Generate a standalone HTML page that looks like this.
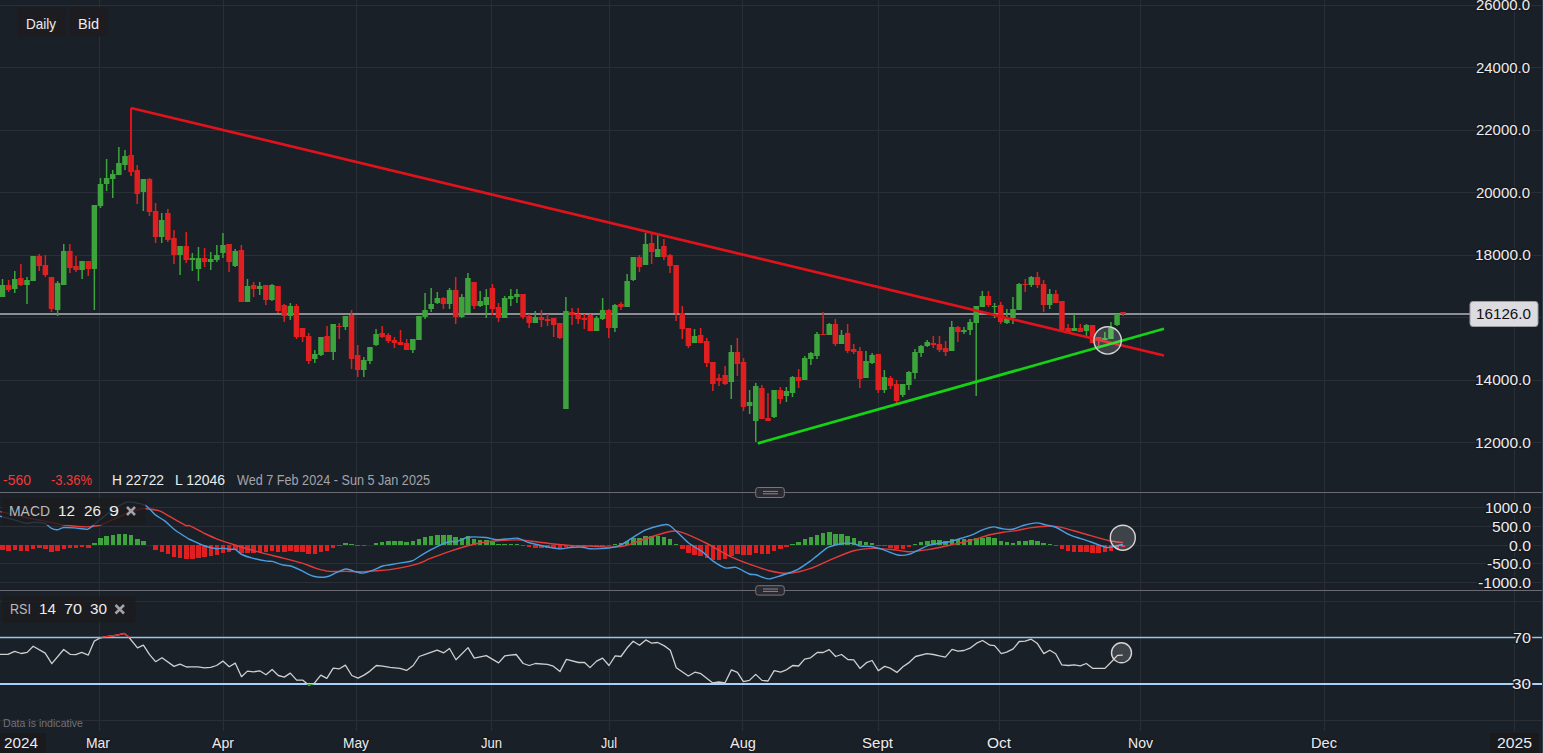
<!DOCTYPE html>
<html><head><meta charset="utf-8"><title>Chart</title>
<style>html,body{margin:0;padding:0;background:#1a2027;}body{width:1543px;height:753px;overflow:hidden;position:relative;font-family:"Liberation Sans",sans-serif;}</style>
</head><body>
<svg width="1543" height="753" viewBox="0 0 1543 753" style="position:absolute;left:0;top:0"><path d="M0 5.5H1542M0 67.5H1542M0 130.5H1542M0 192.5H1542M0 255.5H1542M0 317.5H1542M0 380.5H1542M0 442.5H1542M0 507.5H1542M0 526.5H1542M0 545.5H1542M0 563.5H1542M0 582.5H1542M0 601.5H1542M0 720.5H1542M99.5 0V731M223.5 0V731M356.5 0V731M491.5 0V731M609.5 0V731M742.5 0V731M878.5 0V731M999.5 0V731M1140.5 0V731M1324.5 0V731M1514.5 0V731" stroke="#2a2e36" stroke-width="1" fill="none"/><path d="M0 314H1470" stroke="#8c8e94" stroke-width="2" fill="none"/><path d="M7.87 280h1.5V292h-1.5ZM20.12 264h1.5V286h-1.5ZM38.49 254h1.5V271h-1.5ZM44.62 255h1.5V277h-1.5ZM50.74 277h1.5V312h-1.5ZM69.11 244h1.5V273h-1.5ZM75.24 256h1.5V272h-1.5ZM87.49 261h1.5V276h-1.5ZM130.35 108h1.5V176h-1.5ZM136.48 165h1.5V204h-1.5ZM148.73 178h1.5V216h-1.5ZM154.85 203h1.5V243h-1.5ZM167.10 209h1.5V242h-1.5ZM173.22 230h1.5V264h-1.5ZM185.47 232h1.5V263h-1.5ZM203.84 248h1.5V267h-1.5ZM228.34 244h1.5V272h-1.5ZM240.59 245h1.5V302h-1.5ZM252.83 282h1.5V297h-1.5ZM265.08 285h1.5V305h-1.5ZM277.33 286h1.5V313h-1.5ZM283.45 304h1.5V322h-1.5ZM295.70 304h1.5V339h-1.5ZM301.83 328h1.5V342h-1.5ZM307.95 333h1.5V364h-1.5ZM326.32 326h1.5V352h-1.5ZM338.57 323h1.5V339h-1.5ZM350.82 310h1.5V369h-1.5ZM356.94 345h1.5V377h-1.5ZM381.44 326h1.5V338h-1.5ZM387.56 333h1.5V343h-1.5ZM393.69 337h1.5V348h-1.5ZM399.81 330h1.5V345h-1.5ZM405.93 339h1.5V350h-1.5ZM442.68 297h1.5V309h-1.5ZM454.93 277h1.5V324h-1.5ZM473.30 282h1.5V309h-1.5ZM491.67 284h1.5V315h-1.5ZM497.79 303h1.5V322h-1.5ZM522.29 294h1.5V319h-1.5ZM528.41 314h1.5V328h-1.5ZM540.66 310h1.5V327h-1.5ZM546.79 314h1.5V326h-1.5ZM552.91 318h1.5V337h-1.5ZM559.03 323h1.5V339h-1.5ZM571.28 308h1.5V325h-1.5ZM577.41 308h1.5V324h-1.5ZM583.53 314h1.5V329h-1.5ZM589.65 314h1.5V331h-1.5ZM608.03 309h1.5V338h-1.5ZM620.27 302h1.5V310h-1.5ZM638.65 255h1.5V272h-1.5ZM650.89 234h1.5V264h-1.5ZM663.14 239h1.5V260h-1.5ZM669.27 254h1.5V273h-1.5ZM675.39 265h1.5V321h-1.5ZM681.51 306h1.5V339h-1.5ZM687.64 328h1.5V348h-1.5ZM699.89 328h1.5V343h-1.5ZM706.01 338h1.5V367h-1.5ZM712.13 362h1.5V391h-1.5ZM718.26 374h1.5V386h-1.5ZM724.38 366h1.5V385h-1.5ZM736.63 338h1.5V376h-1.5ZM742.75 358h1.5V411h-1.5ZM761.13 385h1.5V419h-1.5ZM767.25 393h1.5V421h-1.5ZM779.50 387h1.5V404h-1.5ZM797.87 369h1.5V388h-1.5ZM822.37 312h1.5V335h-1.5ZM834.61 319h1.5V346h-1.5ZM846.86 324h1.5V353h-1.5ZM852.99 344h1.5V354h-1.5ZM859.11 347h1.5V388h-1.5ZM877.48 354h1.5V393h-1.5ZM889.73 376h1.5V389h-1.5ZM895.85 380h1.5V403h-1.5ZM932.60 336h1.5V348h-1.5ZM938.72 336h1.5V352h-1.5ZM944.85 341h1.5V356h-1.5ZM957.09 326h1.5V342h-1.5ZM987.71 291h1.5V307h-1.5ZM999.96 302h1.5V324h-1.5ZM1024.46 279h1.5V292h-1.5ZM1036.71 272h1.5V288h-1.5ZM1042.83 280h1.5V312h-1.5ZM1055.08 290h1.5V303h-1.5ZM1061.20 301h1.5V332h-1.5ZM1067.33 324h1.5V333h-1.5ZM1079.57 324h1.5V332h-1.5ZM1091.82 325h1.5V343h-1.5ZM1097.95 337h1.5V346h-1.5ZM1122.44 312h1.5V316h-1.5ZM5.87 285H11.37V290H5.87ZM18.12 278H23.62V285H18.12ZM36.49 256H41.99V266H36.49ZM42.62 265H48.12V275H42.62ZM48.74 277H54.24V309H48.74ZM67.11 251H72.61V268H67.11ZM73.24 266H78.74V270H73.24ZM85.49 261H90.99V269H85.49ZM128.35 155H133.85V172H128.35ZM134.48 170H139.98V194H134.48ZM146.73 179H152.23V212H146.73ZM152.85 211H158.35V237H152.85ZM165.10 213H170.60V240H165.10ZM171.22 238H176.72V255H171.22ZM183.47 246H188.97V260H183.47ZM201.84 258H207.34V262H201.84ZM226.34 244H231.84V262H226.34ZM238.59 250H244.09V302H238.59ZM250.83 285H256.33V289H250.83ZM263.08 285H268.58V300H263.08ZM275.33 286H280.83V311H275.33ZM281.45 305H286.95V316H281.45ZM293.70 306H299.20V337H293.70ZM299.83 328H305.33V337H299.83ZM305.95 336H311.45V361H305.95ZM324.32 336H329.82V352H324.32ZM336.57 326H342.07V327H336.57ZM348.82 315H354.32V359H348.82ZM354.94 355H360.44V370H354.94ZM379.44 333H384.94V337H379.44ZM385.56 335H391.06V341H385.56ZM391.69 340H397.19V343H391.69ZM397.81 342H403.31V345H397.81ZM403.93 343H409.43V350H403.93ZM440.68 298H446.18V304H440.68ZM452.93 290H458.43V317H452.93ZM471.30 282H476.80V306H471.30ZM489.67 288H495.17V309H489.67ZM495.79 307H501.29V318H495.79ZM520.29 294H525.79V317H520.29ZM526.41 316H531.91V323H526.41ZM538.66 317H544.16V320H538.66ZM544.79 319H550.29V321H544.79ZM550.91 318H556.41V325H550.91ZM557.03 323H562.53V338H557.03ZM569.28 312H574.78V315H569.28ZM575.41 314H580.91V319H575.41ZM581.53 318H587.03V320H581.53ZM587.65 315H593.15V331H587.65ZM606.03 310H611.53V328H606.03ZM618.27 304H623.77V307H618.27ZM636.65 257H642.15V267H636.65ZM648.89 243H654.39V252H648.89ZM661.14 246H666.64V257H661.14ZM667.27 255H672.77V266H667.27ZM673.39 265H678.89V313H673.39ZM679.51 313H685.01V329H679.51ZM685.64 328H691.14V346H685.64ZM697.89 335H703.39V343H697.89ZM704.01 341H709.51V363H704.01ZM710.13 362H715.63V384H710.13ZM716.26 378H721.76V381H716.26ZM722.38 375H727.88V384H722.38ZM734.63 352H740.13V364H734.63ZM740.75 362H746.25V407H740.75ZM759.13 388H764.63V419H759.13ZM765.25 418H770.75V421H765.25ZM777.50 390H783.00V399H777.50ZM795.87 377H801.37V381H795.87ZM820.37 334H825.87V335H820.37ZM832.61 324H838.11V344H832.61ZM844.86 333H850.36V351H844.86ZM850.99 349H856.49V352H850.99ZM857.11 351H862.61V379H857.11ZM875.48 354H880.98V390H875.48ZM887.73 378H893.23V386H887.73ZM893.85 384H899.35V401H893.85ZM930.60 343H936.10V345H930.60ZM936.72 344H942.22V350H936.72ZM942.85 348H948.35V352H942.85ZM955.09 327H960.59V332H955.09ZM985.71 296H991.21V305H985.71ZM997.96 305H1003.46V322H997.96ZM1022.46 284H1027.96V285H1022.46ZM1034.71 277H1040.21V285H1034.71ZM1040.83 284H1046.33V305H1040.83ZM1053.08 294H1058.58V303H1053.08ZM1059.20 301H1064.70V330H1059.20ZM1065.33 328H1070.83V332H1065.33ZM1077.57 328H1083.07V332H1077.57ZM1089.82 325H1095.32V343H1089.82ZM1095.95 337H1101.45V340H1095.95ZM1120.44 312H1125.94V314H1120.44Z" fill="#e02020"/><path d="M1.75 279h1.5V297h-1.5ZM14.00 271h1.5V293h-1.5ZM26.25 277h1.5V304h-1.5ZM32.37 256h1.5V281h-1.5ZM56.87 281h1.5V316h-1.5ZM62.99 244h1.5V285h-1.5ZM81.36 261h1.5V279h-1.5ZM93.61 205h1.5V310h-1.5ZM99.73 178h1.5V208h-1.5ZM105.86 159h1.5V191h-1.5ZM111.98 170h1.5V198h-1.5ZM118.11 147h1.5V175h-1.5ZM124.23 150h1.5V170h-1.5ZM142.60 179h1.5V211h-1.5ZM160.97 213h1.5V243h-1.5ZM179.35 246h1.5V275h-1.5ZM191.59 253h1.5V271h-1.5ZM197.72 247h1.5V281h-1.5ZM209.97 252h1.5V270h-1.5ZM216.09 245h1.5V262h-1.5ZM222.21 233h1.5V258h-1.5ZM234.46 249h1.5V267h-1.5ZM246.71 279h1.5V302h-1.5ZM258.96 282h1.5V295h-1.5ZM271.21 284h1.5V301h-1.5ZM289.58 303h1.5V320h-1.5ZM314.07 350h1.5V363h-1.5ZM320.20 337h1.5V356h-1.5ZM332.45 324h1.5V360h-1.5ZM344.69 316h1.5V330h-1.5ZM363.07 357h1.5V377h-1.5ZM369.19 347h1.5V364h-1.5ZM375.31 329h1.5V346h-1.5ZM412.06 339h1.5V353h-1.5ZM418.18 316h1.5V340h-1.5ZM424.31 293h1.5V319h-1.5ZM430.43 288h1.5V312h-1.5ZM436.55 292h1.5V304h-1.5ZM448.80 288h1.5V309h-1.5ZM461.05 294h1.5V318h-1.5ZM467.17 273h1.5V313h-1.5ZM479.42 291h1.5V307h-1.5ZM485.55 289h1.5V318h-1.5ZM503.92 296h1.5V318h-1.5ZM510.04 289h1.5V306h-1.5ZM516.17 289h1.5V303h-1.5ZM534.54 311h1.5V323h-1.5ZM565.16 297h1.5V409h-1.5ZM595.78 316h1.5V331h-1.5ZM601.90 298h1.5V320h-1.5ZM614.15 304h1.5V332h-1.5ZM626.40 274h1.5V307h-1.5ZM632.52 257h1.5V281h-1.5ZM644.77 233h1.5V265h-1.5ZM657.02 234h1.5V257h-1.5ZM693.76 329h1.5V343h-1.5ZM730.51 345h1.5V399h-1.5ZM748.88 390h1.5V414h-1.5ZM755.00 383h1.5V442h-1.5ZM773.37 390h1.5V418h-1.5ZM785.62 387h1.5V402h-1.5ZM791.75 376h1.5V397h-1.5ZM803.99 356h1.5V380h-1.5ZM810.12 352h1.5V365h-1.5ZM816.24 332h1.5V359h-1.5ZM828.49 323h1.5V335h-1.5ZM840.74 330h1.5V344h-1.5ZM865.23 351h1.5V378h-1.5ZM871.36 353h1.5V364h-1.5ZM883.61 370h1.5V393h-1.5ZM901.98 384h1.5V397h-1.5ZM908.10 371h1.5V390h-1.5ZM914.23 349h1.5V379h-1.5ZM920.35 345h1.5V357h-1.5ZM926.47 340h1.5V347h-1.5ZM950.97 321h1.5V351h-1.5ZM963.22 327h1.5V334h-1.5ZM969.34 319h1.5V335h-1.5ZM975.47 306h1.5V396h-1.5ZM981.59 291h1.5V307h-1.5ZM993.84 303h1.5V318h-1.5ZM1006.09 309h1.5V324h-1.5ZM1012.21 297h1.5V324h-1.5ZM1018.33 283h1.5V310h-1.5ZM1030.58 276h1.5V287h-1.5ZM1048.95 289h1.5V309h-1.5ZM1073.45 314h1.5V331h-1.5ZM1085.70 324h1.5V336h-1.5ZM1104.07 332h1.5V340h-1.5ZM1110.19 322h1.5V339h-1.5ZM1116.32 314h1.5V326h-1.5ZM-0.25 285H5.25V297H-0.25ZM12.00 279H17.50V289H12.00ZM24.25 280H29.75V285H24.25ZM30.37 256H35.87V281H30.37ZM54.87 283H60.37V310H54.87ZM60.99 251H66.49V285H60.99ZM79.36 261H84.86V270H79.36ZM91.61 205H97.11V269H91.61ZM97.73 184H103.23V206H97.73ZM103.86 178H109.36V184H103.86ZM109.98 174H115.48V179H109.98ZM116.11 163H121.61V175H116.11ZM122.23 156H127.73V165H122.23ZM140.60 179H146.10V192H140.60ZM158.97 220H164.47V237H158.97ZM177.35 246H182.85V255H177.35ZM189.59 258H195.09V260H189.59ZM195.72 258H201.22V269H195.72ZM207.97 259H213.47V262H207.97ZM214.09 255H219.59V260H214.09ZM220.21 245H225.71V253H220.21ZM232.46 251H237.96V266H232.46ZM244.71 286H250.21V302H244.71ZM256.96 286H262.46V289H256.96ZM269.21 285H274.71V300H269.21ZM287.58 306H293.08V316H287.58ZM312.07 354H317.57V359H312.07ZM318.20 337H323.70V355H318.20ZM330.45 324H335.95V352H330.45ZM342.69 316H348.19V327H342.69ZM361.07 360H366.57V370H361.07ZM367.19 347H372.69V361H367.19ZM373.31 334H378.81V345H373.31ZM410.06 339H415.56V350H410.06ZM416.18 316H421.68V340H416.18ZM422.31 310H427.81V317H422.31ZM428.43 304H433.93V309H428.43ZM434.55 298H440.05V303H434.55ZM446.80 290H452.30V304H446.80ZM459.05 297H464.55V317H459.05ZM465.17 278H470.67V313H465.17ZM477.42 301H482.92V306H477.42ZM483.55 297H489.05V305H483.55ZM501.92 298H507.42V318H501.92ZM508.04 296H513.54V299H508.04ZM514.17 294H519.67V297H514.17ZM532.54 317H538.04V323H532.54ZM563.16 311H568.66V409H563.16ZM593.78 318H599.28V331H593.78ZM599.90 310H605.40V319H599.90ZM612.15 305H617.65V328H612.15ZM624.40 281H629.90V307H624.40ZM630.52 257H636.02V280H630.52ZM642.77 244H648.27V265H642.77ZM655.02 249H660.52V257H655.02ZM691.76 336H697.26V343H691.76ZM728.51 352H734.01V382H728.51ZM746.88 402H752.38V406H746.88ZM753.00 386H758.50V421H753.00ZM771.37 390H776.87V417H771.37ZM783.62 391H789.12V396H783.62ZM789.75 377H795.25V393H789.75ZM801.99 358H807.49V380H801.99ZM808.12 353H813.62V359H808.12ZM814.24 334H819.74V356H814.24ZM826.49 324H831.99V335H826.49ZM838.74 335H844.24V344H838.74ZM863.23 361H868.73V378H863.23ZM869.36 355H874.86V363H869.36ZM881.61 377H887.11V390H881.61ZM899.98 384H905.48V395H899.98ZM906.10 372H911.60V385H906.10ZM912.23 352H917.73V373H912.23ZM918.35 346H923.85V353H918.35ZM924.47 342H929.97V346H924.47ZM948.97 327H954.47V351H948.97ZM961.22 330H966.72V332H961.22ZM967.34 322H972.84V330H967.34ZM973.47 306H978.97V323H973.47ZM979.59 296H985.09V307H979.59ZM991.84 306H997.34V307H991.84ZM1004.09 318H1009.59V323H1004.09ZM1010.21 309H1015.71V318H1010.21ZM1016.33 284H1021.83V310H1016.33ZM1028.58 277H1034.08V285H1028.58ZM1046.95 294H1052.45V305H1046.95ZM1071.45 328H1076.95V331H1071.45ZM1083.70 325H1089.20V331H1083.70ZM1102.07 338H1107.57V340H1102.07ZM1108.19 328H1113.69V339H1108.19ZM1114.32 314H1119.82V325H1114.32Z" fill="#3da43d"/><path d="M131 108L1164 355.5" stroke="#e0131c" stroke-width="2.7" fill="none"/><path d="M131 176V108" stroke="#e0131c" stroke-width="2" fill="none"/><path d="M757.8 443.4L1164 328.8" stroke="#14d214" stroke-width="2.7" fill="none"/><circle cx="1107.6" cy="340.4" r="13.7" fill="rgba(255,255,255,0.16)" stroke="#d4d4d4" stroke-width="1.4"/><path d="M0 492.5H1542M0 590.5H1542" stroke="#6b6a73" stroke-width="1" fill="none"/><rect x="755.7" y="487.5" width="28.6" height="10" rx="2.5" fill="#2b2a30" stroke="#77757f" stroke-width="1"/><path d="M763 491.4H778M763 493.8H778" stroke="#8a8892" stroke-width="1" fill="none"/><rect x="755.7" y="585.7" width="28.6" height="9.4" rx="2.5" fill="#2b2a30" stroke="#77757f" stroke-width="1"/><path d="M763 589.0H778M763 591.4H778" stroke="#8a8892" stroke-width="1" fill="none"/><path d="M0 545H5V550H0ZM6 545H11V551H6ZM13 545H17V550H13ZM19 545H23V551H19ZM25 545H29V551H25ZM31 545H35V549H31ZM37 545H42V548H37ZM43 545H48V549H43ZM49 545H54V552H49ZM55 545H60V551H55ZM62 545H66V549H62ZM68 545H72V548H68ZM74 545H78V548H74ZM80 545H84V547H80ZM86 545H91V548H86ZM153 545H158V550H153ZM160 545H164V552H160ZM166 545H170V554H166ZM172 545H176V557H172ZM178 545H182V558H178ZM184 545H189V559H184ZM190 545H195V559H190ZM196 545H201V558H196ZM202 545H207V557H202ZM209 545H213V556H209ZM215 545H219V555H215ZM221 545H225V553H221ZM227 545H231V552H227ZM233 545H238V550H233ZM239 545H244V553H239ZM245 545H250V553H245ZM251 545H256V553H251ZM258 545H262V552H258ZM264 545H268V552H264ZM270 545H274V551H270ZM276 545H280V552H276ZM282 545H287V552H282ZM288 545H293V551H288ZM294 545H299V552H294ZM300 545H305V552H300ZM306 545H311V554H306ZM313 545H317V554H313ZM319 545H323V552H319ZM325 545H329V551H325ZM331 545H335V548H331ZM337 545H342V546H337ZM355 545H360V546H355ZM362 545H366V546H362ZM521 545H525V546H521ZM527 545H531V547H527ZM533 545H538V548H533ZM539 545H544V548H539ZM545 545H550V548H545ZM551 545H556V548H551ZM558 545H562V549H558ZM564 545H568V547H564ZM570 545H574V547H570ZM576 545H580V547H576ZM582 545H587V547H582ZM588 545H593V546H588ZM594 545H599V546H594ZM600 545H605V546H600ZM607 545H611V546H607ZM680 545H685V549H680ZM686 545H691V553H686ZM692 545H697V555H692ZM698 545H703V556H698ZM705 545H709V558H705ZM711 545H715V560H711ZM717 545H721V560H717ZM723 545H727V559H723ZM729 545H734V556H729ZM735 545H740V554H735ZM741 545H746V555H741ZM747 545H752V555H747ZM754 545H758V553H754ZM760 545H764V554H760ZM766 545H770V554H766ZM772 545H776V551H772ZM778 545H783V549H778ZM784 545H789V547H784ZM876 545H881V546H876ZM882 545H887V546H882ZM888 545H893V548H888ZM894 545H899V549H894ZM901 545H905V549H901ZM907 545H911V547H907ZM1054 545H1058V546H1054ZM1060 545H1064V549H1060ZM1066 545H1070V551H1066ZM1072 545H1076V552H1072ZM1078 545H1083V552H1078ZM1084 545H1089V552H1084ZM1090 545H1095V553H1090ZM1096 545H1101V553H1096ZM1103 545H1107V552H1103ZM1109 545H1113V551H1109ZM1115 545H1119V549H1115ZM1121 545H1125V547H1121Z" fill="#e02020"/><path d="M92 543H97V545H92ZM98 538H103V545H98ZM104 536H109V545H104ZM111 535H115V545H111ZM117 534H121V545H117ZM123 534H127V545H123ZM129 535H133V545H129ZM135 539H140V545H135ZM141 541H146V545H141ZM343 543H348V545H343ZM349 544H354V545H349ZM374 543H378V545H374ZM380 542H384V545H380ZM386 541H391V545H386ZM392 541H397V545H392ZM398 541H403V545H398ZM404 542H409V545H404ZM411 541H415V545H411ZM417 539H421V545H417ZM423 537H427V545H423ZM429 536H433V545H429ZM435 535H440V545H435ZM441 535H446V545H441ZM447 535H452V545H447ZM453 537H458V545H453ZM460 538H464V545H460ZM466 536H470V545H466ZM472 539H476V545H472ZM478 540H482V545H478ZM484 540H489V545H484ZM490 542H495V545H490ZM496 544H501V545H496ZM502 544H507V545H502ZM509 544H513V545H509ZM515 544H519V545H515ZM613 544H617V545H613ZM619 543H623V545H619ZM625 541H629V545H625ZM631 538H636V545H631ZM637 538H642V545H637ZM643 536H648V545H643ZM649 536H654V545H649ZM656 536H660V545H656ZM662 537H666V545H662ZM668 539H672V545H668ZM674 544H678V545H674ZM790 544H795V545H790ZM796 542H801V545H796ZM803 539H807V545H803ZM809 537H813V545H809ZM815 535H819V545H815ZM821 533H825V545H821ZM827 532H832V545H827ZM833 534H838V545H833ZM839 534H844V545H839ZM845 536H850V545H845ZM852 538H856V545H852ZM858 541H862V545H858ZM864 542H868V545H864ZM870 543H874V545H870ZM913 544H917V545H913ZM919 542H923V545H919ZM925 541H930V545H925ZM931 540H936V545H931ZM937 540H942V545H937ZM943 541H948V545H943ZM950 539H954V545H950ZM956 539H960V545H956ZM962 539H966V545H962ZM968 539H972V545H968ZM974 538H979V545H974ZM980 538H985V545H980ZM986 537H991V545H986ZM992 538H997V545H992ZM999 541H1003V545H999ZM1005 542H1009V545H1005ZM1011 543H1015V545H1011ZM1017 541H1021V545H1017ZM1023 541H1028V545H1023ZM1029 540H1034V545H1029ZM1035 541H1040V545H1035ZM1041 543H1046V545H1041ZM1048 544H1052V545H1048Z" fill="#3da43d"/><path d="M0.0 511.6C3.4 512.4 19.9 516.2 26.6 517.6C33.3 519.0 48.1 521.9 53.1 522.9C58.1 523.9 62.2 524.8 66.4 525.3C70.6 525.8 82.1 526.9 86.3 526.9C90.5 526.9 96.2 526.2 99.6 525.3C103.0 524.4 109.5 521.1 112.9 519.6C116.3 518.1 122.8 514.9 126.2 513.6C129.6 512.3 136.9 509.8 139.4 509.2C141.9 508.6 143.6 508.5 146.1 508.7C148.6 508.9 156.0 509.7 159.4 510.9C162.8 512.1 169.2 516.4 172.6 518.2C176.0 520.0 183.7 524.5 185.9 525.5C188.1 526.5 187.8 524.9 190.0 525.8C192.2 526.7 199.9 531.2 203.3 532.8C206.7 534.4 212.4 537.2 216.6 538.8C220.8 540.4 231.5 543.9 236.5 545.5C241.5 547.1 250.5 549.8 256.4 551.4C262.3 553.0 277.1 556.6 283.0 558.1C288.9 559.6 298.7 562.1 302.9 563.4C307.1 564.7 312.8 567.3 316.2 568.3C319.6 569.3 325.6 571.0 329.4 571.4C333.2 571.8 341.8 571.3 346.0 571.4C350.2 571.5 358.8 571.9 362.6 571.8C366.4 571.7 372.4 571.0 375.9 570.7C379.4 570.4 384.8 570.4 390.0 569.6C395.2 568.8 411.6 565.5 416.6 564.1C421.6 562.7 425.6 560.3 429.8 558.7C434.0 557.1 444.7 553.1 449.8 551.4C454.9 549.7 464.7 546.5 469.7 545.2C474.7 543.9 483.5 542.2 489.6 541.5C495.7 540.8 511.6 539.9 517.5 539.9C523.4 539.9 530.9 541.1 536.1 541.7C541.3 542.3 553.7 543.9 558.7 544.4C563.7 544.9 571.9 545.7 575.9 545.9C579.9 546.1 585.7 545.9 590.0 546.1C594.3 546.3 605.4 547.3 609.9 547.2C614.4 547.1 621.7 546.5 625.9 545.5C630.1 544.5 637.6 541.3 643.1 539.5C648.6 537.7 665.0 532.5 669.7 531.5C674.4 530.5 675.6 530.4 680.3 531.9C685.0 533.4 700.7 540.4 706.9 543.5C713.1 546.6 724.0 553.5 729.4 556.1C734.8 558.7 744.3 562.3 749.4 564.1C754.5 565.9 764.2 569.5 769.3 570.7C774.4 571.9 784.9 573.5 790.0 573.2C795.1 572.9 804.9 570.4 809.9 568.7C814.9 567.0 824.3 562.4 829.8 560.1C835.3 557.8 848.1 552.3 853.7 550.8C859.3 549.3 868.6 548.5 873.7 548.4C878.8 548.3 889.1 549.3 893.6 549.7C898.1 550.1 905.0 551.8 909.5 551.8C914.0 551.8 924.3 550.2 929.4 549.4C934.5 548.6 944.3 546.3 949.4 545.2C954.5 544.1 964.2 542.1 969.3 540.8C974.4 539.5 985.7 535.9 990.0 534.8C994.3 533.7 999.9 532.7 1003.3 532.2C1006.7 531.7 1013.2 531.1 1016.6 530.6C1020.0 530.1 1025.9 528.5 1029.8 527.9C1033.7 527.3 1043.2 526.3 1047.1 526.2C1051.0 526.1 1055.9 526.2 1060.4 527.1C1064.9 528.0 1076.8 531.8 1083.0 533.5C1089.2 535.2 1104.5 539.7 1109.5 540.8C1114.5 541.9 1121.1 542.3 1122.8 542.5" stroke="#e53a3a" stroke-width="1.4" fill="none" stroke-linejoin="round"/><path d="M0.0 516.2C1.7 516.6 9.9 518.7 13.3 519.6C16.7 520.5 23.9 522.9 26.6 523.2C29.3 523.5 32.1 522.1 34.5 522.2C36.9 522.3 43.1 522.8 45.2 523.6C47.3 524.4 49.6 527.4 51.1 528.2C52.6 529.0 55.5 529.9 57.1 529.8C58.7 529.7 61.5 527.7 63.7 527.5C65.9 527.3 71.4 527.7 74.4 527.9C77.4 528.1 85.2 529.6 87.6 529.3C90.0 529.0 91.3 526.8 93.0 525.5C94.7 524.2 98.4 520.9 100.9 518.9C103.4 516.9 109.7 511.7 112.9 509.6C116.1 507.5 123.7 503.2 126.2 502.3C128.7 501.4 130.3 501.9 132.8 502.3C135.3 502.7 142.8 504.0 145.7 505.6C148.6 507.2 153.0 513.0 155.4 514.9C157.8 516.8 162.2 519.0 164.7 520.9C167.2 522.8 172.3 527.9 175.3 530.2C178.3 532.5 186.7 537.6 188.6 538.8C190.5 540.0 188.1 538.7 190.0 539.5C191.9 540.3 199.9 544.3 203.3 545.5C206.7 546.7 214.1 548.5 216.6 548.8C219.1 549.1 221.5 548.0 223.2 548.1C224.9 548.2 228.3 549.2 229.8 549.4C231.3 549.6 233.7 548.8 235.2 549.4C236.7 550.0 239.6 553.4 241.8 554.5C244.0 555.6 249.2 557.3 252.4 558.1C255.6 558.9 264.5 560.7 267.0 561.1C269.5 561.5 270.3 560.9 272.3 561.4C274.3 561.9 280.6 564.4 283.0 565.0C285.4 565.6 288.6 565.3 291.0 566.0C293.4 566.7 298.8 569.4 301.6 570.7C304.5 572.0 310.3 575.5 313.5 576.3C316.7 577.1 323.9 577.2 326.8 576.7C329.7 576.2 333.7 573.7 336.1 572.7C338.5 571.7 343.5 569.1 346.0 569.0C348.5 568.9 353.9 571.3 356.0 571.8C358.1 572.3 360.6 573.2 362.6 573.1C364.6 573.0 369.4 571.6 371.9 570.7C374.4 569.8 380.3 566.8 382.6 566.0C384.9 565.2 387.0 565.2 390.0 564.7C393.0 564.2 403.0 562.6 405.9 562.1C408.8 561.6 410.4 561.7 412.6 560.7C414.8 559.7 420.2 555.9 423.2 554.1C426.2 552.3 433.1 548.4 436.5 546.8C439.9 545.2 447.3 542.1 449.8 541.5C452.3 540.9 454.0 542.2 456.4 541.7C458.8 541.2 464.7 537.7 468.4 537.2C472.1 536.7 481.9 537.2 485.6 537.5C489.3 537.8 493.6 539.7 497.6 539.8C501.6 539.9 513.5 537.8 517.5 538.2C521.5 538.6 524.2 541.5 529.4 542.8C534.6 544.1 553.6 548.2 558.7 548.8C563.8 549.4 566.3 547.7 569.3 547.5C572.3 547.3 580.0 547.0 582.6 547.2C585.2 547.4 586.7 548.7 590.0 548.8C593.3 548.9 604.7 548.6 608.6 548.1C612.5 547.6 617.3 546.6 620.5 545.2C623.7 543.8 630.6 538.8 633.8 536.8C637.0 534.8 642.4 531.2 645.8 529.8C649.2 528.4 657.4 526.0 660.4 525.5C663.4 525.0 666.2 523.3 669.7 525.5C673.2 527.7 684.1 539.4 688.3 542.8C692.5 546.2 699.7 549.7 702.9 552.1C706.1 554.5 710.6 559.4 713.5 561.4C716.4 563.4 722.6 567.2 725.5 568.0C728.4 568.8 733.1 566.6 736.1 567.4C739.1 568.2 746.9 573.1 749.4 574.0C751.9 574.9 753.6 574.1 756.0 574.7C758.4 575.3 765.1 578.7 768.0 578.9C770.9 579.1 775.8 577.1 778.6 576.3C781.4 575.5 787.5 573.4 790.0 572.5C792.5 571.6 795.5 570.8 798.0 569.4C800.5 568.0 807.5 563.1 809.9 561.4C812.3 559.7 814.2 557.9 816.6 556.1C819.0 554.3 825.1 548.8 828.5 547.2C831.9 545.6 839.9 544.0 843.1 543.5C846.3 543.0 851.5 543.2 853.7 543.5C855.9 543.8 858.2 545.7 860.4 546.1C862.6 546.5 868.1 546.0 871.0 546.5C873.9 547.0 879.6 548.6 883.0 549.7C886.4 550.8 894.2 554.4 897.6 555.0C901.0 555.6 905.5 555.3 909.5 554.1C913.5 552.9 924.3 546.8 929.4 545.2C934.5 543.6 945.2 542.6 949.4 541.7C953.6 540.8 959.8 538.7 962.6 537.8C965.5 536.9 969.4 535.8 971.9 534.8C974.4 533.8 980.3 530.7 982.6 529.8C984.9 528.9 988.6 527.9 990.0 527.5C991.4 527.1 992.3 526.7 994.0 526.9C995.7 527.1 1000.9 528.6 1003.3 528.9C1005.7 529.2 1010.1 529.7 1012.6 529.3C1015.1 528.9 1020.2 526.3 1023.2 525.5C1026.2 524.7 1033.6 523.0 1036.5 522.9C1039.4 522.8 1043.3 524.3 1045.8 524.9C1048.3 525.5 1053.4 526.2 1056.4 527.5C1059.4 528.8 1065.5 533.0 1069.7 534.8C1073.9 536.6 1085.1 539.9 1089.6 541.5C1094.1 543.1 1102.6 546.5 1105.5 547.2C1108.4 547.9 1110.0 547.2 1112.2 546.8C1114.4 546.4 1121.5 544.7 1122.8 544.4" stroke="#4a9de0" stroke-width="1.4" fill="none" stroke-linejoin="round"/><circle cx="1122.8" cy="537.7" r="12.5" fill="rgba(255,255,255,0.16)" stroke="#d4d4d4" stroke-width="1.4"/><path d="M0 637.5H1542" stroke="#9ec1e8" stroke-width="1.3" fill="none"/><path d="M0 684H1542" stroke="#a8d0fa" stroke-width="2" fill="none"/><defs><clipPath id="above"><rect x="0" y="590" width="1543" height="47.5"/></clipPath><clipPath id="below"><rect x="0" y="684" width="1543" height="40"/></clipPath></defs><path d="M0.0 654.4L8.0 654.4L14.6 651.4L21.2 653.5L27.2 652.4L33.2 646.2L45.2 653.1L51.8 663.7L63.7 649.5L70.4 654.4L75.7 654.7L81.7 652.4L88.3 655.1L94.3 641.1L99.6 638.2L106.2 636.7L112.9 635.8L118.2 634.9L124.2 633.4L128.2 636.5L137.5 647.8L143.4 645.1L149.4 654.4L155.6 661.7L162.0 657.7L174.0 666.4L180.0 664.1L186.6 667.0L190.0 666.8L198.0 666.8L204.6 667.8L210.6 667.4L216.6 665.5L222.9 661.1L229.2 666.8L235.2 663.1L241.5 676.7L247.4 671.1L253.7 671.8L259.7 670.8L266.0 674.7L272.1 669.5L278.3 675.5L284.3 677.1L290.3 673.1L296.6 680.1L302.6 680.1L308.6 685.0L314.2 683.4L320.8 675.1L326.8 678.4L333.2 668.2L339.4 668.8L345.4 665.1L351.8 675.5L358.0 678.1L364.0 675.1L370.0 671.1L376.3 665.5L382.6 666.2L390.0 667.4L400.0 668.4L406.6 670.4L413.2 665.5L419.2 656.5L425.9 654.1L437.1 650.2L443.8 652.8L449.5 648.5L456.0 659.8L468.0 647.6L474.3 658.2L486.3 655.6L498.6 662.9L504.9 655.8L516.2 654.5L523.2 663.5L529.2 665.5L535.4 663.5L547.4 664.4L553.3 666.2L560.0 671.5L566.4 659.4L578.6 662.5L584.6 662.5L590.0 667.6L596.6 661.1L602.6 658.1L609.0 665.5L615.2 655.8L620.9 656.5L627.2 647.8L633.2 641.2L639.5 645.2L645.8 639.9L651.8 643.2L657.7 642.5L664.4 645.9L670.3 650.2L676.3 667.8L688.3 676.0L694.9 672.2L700.9 673.7L712.8 683.0L718.8 682.0L725.1 682.8L731.4 669.8L737.4 672.4L743.4 681.7L749.4 680.4L755.7 674.4L762.0 680.4L768.0 681.0L774.2 670.7L780.6 672.2L786.5 669.8L790.0 667.4L792.7 665.5L798.6 666.0L804.6 659.1L810.6 657.8L817.2 652.5L823.2 652.5L829.2 649.6L835.6 656.5L841.5 654.5L847.8 659.5L853.7 659.8L860.0 668.4L866.4 662.7L872.1 660.5L878.3 670.7L884.6 666.4L890.3 668.2L896.9 672.4L902.9 666.8L908.6 662.9L915.5 656.5L926.8 653.6L933.4 654.5L939.4 655.8L945.4 657.1L952.0 649.4L958.0 651.2L964.0 650.5L970.0 648.2L976.6 643.2L982.6 640.5L990.0 645.2L994.6 645.6L1001.3 653.6L1006.6 652.2L1013.2 648.8L1019.2 641.5L1025.2 641.2L1031.2 639.2L1037.1 643.2L1043.8 653.6L1049.8 650.2L1055.7 653.8L1061.7 664.8L1068.4 665.5L1074.3 664.8L1080.3 665.8L1086.3 663.5L1092.9 668.4L1098.9 668.4L1104.9 668.4L1111.5 661.8L1117.5 655.4L1122.8 655.2" stroke="#cfcfcf" stroke-width="1.3" fill="none" stroke-linejoin="round"/><path d="M0.0 654.4L8.0 654.4L14.6 651.4L21.2 653.5L27.2 652.4L33.2 646.2L45.2 653.1L51.8 663.7L63.7 649.5L70.4 654.4L75.7 654.7L81.7 652.4L88.3 655.1L94.3 641.1L99.6 638.2L106.2 636.7L112.9 635.8L118.2 634.9L124.2 633.4L128.2 636.5L137.5 647.8L143.4 645.1L149.4 654.4L155.6 661.7L162.0 657.7L174.0 666.4L180.0 664.1L186.6 667.0L190.0 666.8L198.0 666.8L204.6 667.8L210.6 667.4L216.6 665.5L222.9 661.1L229.2 666.8L235.2 663.1L241.5 676.7L247.4 671.1L253.7 671.8L259.7 670.8L266.0 674.7L272.1 669.5L278.3 675.5L284.3 677.1L290.3 673.1L296.6 680.1L302.6 680.1L308.6 685.0L314.2 683.4L320.8 675.1L326.8 678.4L333.2 668.2L339.4 668.8L345.4 665.1L351.8 675.5L358.0 678.1L364.0 675.1L370.0 671.1L376.3 665.5L382.6 666.2L390.0 667.4L400.0 668.4L406.6 670.4L413.2 665.5L419.2 656.5L425.9 654.1L437.1 650.2L443.8 652.8L449.5 648.5L456.0 659.8L468.0 647.6L474.3 658.2L486.3 655.6L498.6 662.9L504.9 655.8L516.2 654.5L523.2 663.5L529.2 665.5L535.4 663.5L547.4 664.4L553.3 666.2L560.0 671.5L566.4 659.4L578.6 662.5L584.6 662.5L590.0 667.6L596.6 661.1L602.6 658.1L609.0 665.5L615.2 655.8L620.9 656.5L627.2 647.8L633.2 641.2L639.5 645.2L645.8 639.9L651.8 643.2L657.7 642.5L664.4 645.9L670.3 650.2L676.3 667.8L688.3 676.0L694.9 672.2L700.9 673.7L712.8 683.0L718.8 682.0L725.1 682.8L731.4 669.8L737.4 672.4L743.4 681.7L749.4 680.4L755.7 674.4L762.0 680.4L768.0 681.0L774.2 670.7L780.6 672.2L786.5 669.8L790.0 667.4L792.7 665.5L798.6 666.0L804.6 659.1L810.6 657.8L817.2 652.5L823.2 652.5L829.2 649.6L835.6 656.5L841.5 654.5L847.8 659.5L853.7 659.8L860.0 668.4L866.4 662.7L872.1 660.5L878.3 670.7L884.6 666.4L890.3 668.2L896.9 672.4L902.9 666.8L908.6 662.9L915.5 656.5L926.8 653.6L933.4 654.5L939.4 655.8L945.4 657.1L952.0 649.4L958.0 651.2L964.0 650.5L970.0 648.2L976.6 643.2L982.6 640.5L990.0 645.2L994.6 645.6L1001.3 653.6L1006.6 652.2L1013.2 648.8L1019.2 641.5L1025.2 641.2L1031.2 639.2L1037.1 643.2L1043.8 653.6L1049.8 650.2L1055.7 653.8L1061.7 664.8L1068.4 665.5L1074.3 664.8L1080.3 665.8L1086.3 663.5L1092.9 668.4L1098.9 668.4L1104.9 668.4L1111.5 661.8L1117.5 655.4L1122.8 655.2" stroke="#e02020" stroke-width="1.4" fill="none" clip-path="url(#above)"/><path d="M0.0 654.4L8.0 654.4L14.6 651.4L21.2 653.5L27.2 652.4L33.2 646.2L45.2 653.1L51.8 663.7L63.7 649.5L70.4 654.4L75.7 654.7L81.7 652.4L88.3 655.1L94.3 641.1L99.6 638.2L106.2 636.7L112.9 635.8L118.2 634.9L124.2 633.4L128.2 636.5L137.5 647.8L143.4 645.1L149.4 654.4L155.6 661.7L162.0 657.7L174.0 666.4L180.0 664.1L186.6 667.0L190.0 666.8L198.0 666.8L204.6 667.8L210.6 667.4L216.6 665.5L222.9 661.1L229.2 666.8L235.2 663.1L241.5 676.7L247.4 671.1L253.7 671.8L259.7 670.8L266.0 674.7L272.1 669.5L278.3 675.5L284.3 677.1L290.3 673.1L296.6 680.1L302.6 680.1L308.6 685.0L314.2 683.4L320.8 675.1L326.8 678.4L333.2 668.2L339.4 668.8L345.4 665.1L351.8 675.5L358.0 678.1L364.0 675.1L370.0 671.1L376.3 665.5L382.6 666.2L390.0 667.4L400.0 668.4L406.6 670.4L413.2 665.5L419.2 656.5L425.9 654.1L437.1 650.2L443.8 652.8L449.5 648.5L456.0 659.8L468.0 647.6L474.3 658.2L486.3 655.6L498.6 662.9L504.9 655.8L516.2 654.5L523.2 663.5L529.2 665.5L535.4 663.5L547.4 664.4L553.3 666.2L560.0 671.5L566.4 659.4L578.6 662.5L584.6 662.5L590.0 667.6L596.6 661.1L602.6 658.1L609.0 665.5L615.2 655.8L620.9 656.5L627.2 647.8L633.2 641.2L639.5 645.2L645.8 639.9L651.8 643.2L657.7 642.5L664.4 645.9L670.3 650.2L676.3 667.8L688.3 676.0L694.9 672.2L700.9 673.7L712.8 683.0L718.8 682.0L725.1 682.8L731.4 669.8L737.4 672.4L743.4 681.7L749.4 680.4L755.7 674.4L762.0 680.4L768.0 681.0L774.2 670.7L780.6 672.2L786.5 669.8L790.0 667.4L792.7 665.5L798.6 666.0L804.6 659.1L810.6 657.8L817.2 652.5L823.2 652.5L829.2 649.6L835.6 656.5L841.5 654.5L847.8 659.5L853.7 659.8L860.0 668.4L866.4 662.7L872.1 660.5L878.3 670.7L884.6 666.4L890.3 668.2L896.9 672.4L902.9 666.8L908.6 662.9L915.5 656.5L926.8 653.6L933.4 654.5L939.4 655.8L945.4 657.1L952.0 649.4L958.0 651.2L964.0 650.5L970.0 648.2L976.6 643.2L982.6 640.5L990.0 645.2L994.6 645.6L1001.3 653.6L1006.6 652.2L1013.2 648.8L1019.2 641.5L1025.2 641.2L1031.2 639.2L1037.1 643.2L1043.8 653.6L1049.8 650.2L1055.7 653.8L1061.7 664.8L1068.4 665.5L1074.3 664.8L1080.3 665.8L1086.3 663.5L1092.9 668.4L1098.9 668.4L1104.9 668.4L1111.5 661.8L1117.5 655.4L1122.8 655.2" stroke="#3da43d" stroke-width="1.4" fill="none" clip-path="url(#below)"/><circle cx="1121.5" cy="652.8" r="10.0" fill="rgba(255,255,255,0.16)" stroke="#d4d4d4" stroke-width="1.4"/><path d="M1542.5 0V753" stroke="#323d4b" stroke-width="1"/><rect x="2" y="498" width="143.5" height="27" rx="4" fill="rgba(27,27,30,0.8)"/><rect x="2" y="596" width="133.5" height="26.5" rx="4" fill="rgba(27,27,30,0.8)"/><rect x="1470" y="301.5" width="68" height="25" rx="3" fill="#dcdbe0" stroke="#9d9ca3" stroke-width="1"/><rect x="0" y="733" width="46" height="20" fill="#1a1a1d"/><rect x="1490" y="733" width="49" height="20" fill="#1a1a1d"/><rect x="17.5" y="7" width="48" height="29.5" rx="3" fill="#1d1d21"/><rect x="69.5" y="7" width="38.5" height="29.5" rx="3" fill="#1d1d21"/><text x="1476.00" y="9.9" font-family="Liberation Sans, sans-serif" font-size="15" fill="#ececec" textLength="54.00" lengthAdjust="spacingAndGlyphs" stroke="#171a21" stroke-width="3" stroke-linejoin="round" paint-order="stroke">26000.0</text><text x="1476.00" y="73.2" font-family="Liberation Sans, sans-serif" font-size="15" fill="#ececec" textLength="54.00" lengthAdjust="spacingAndGlyphs" stroke="#171a21" stroke-width="3" stroke-linejoin="round" paint-order="stroke">24000.0</text><text x="1476.00" y="135.0" font-family="Liberation Sans, sans-serif" font-size="15" fill="#ececec" textLength="54.00" lengthAdjust="spacingAndGlyphs" stroke="#171a21" stroke-width="3" stroke-linejoin="round" paint-order="stroke">22000.0</text><text x="1476.00" y="198.3" font-family="Liberation Sans, sans-serif" font-size="15" fill="#ececec" textLength="54.00" lengthAdjust="spacingAndGlyphs" stroke="#171a21" stroke-width="3" stroke-linejoin="round" paint-order="stroke">20000.0</text><text x="1475.00" y="260.0" font-family="Liberation Sans, sans-serif" font-size="15" fill="#ececec" textLength="56.00" lengthAdjust="spacingAndGlyphs" stroke="#171a21" stroke-width="3" stroke-linejoin="round" paint-order="stroke">18000.0</text><text x="1475.00" y="385.0" font-family="Liberation Sans, sans-serif" font-size="15" fill="#ececec" textLength="56.00" lengthAdjust="spacingAndGlyphs" stroke="#171a21" stroke-width="3" stroke-linejoin="round" paint-order="stroke">14000.0</text><text x="1475.00" y="448.3" font-family="Liberation Sans, sans-serif" font-size="15" fill="#ececec" textLength="56.00" lengthAdjust="spacingAndGlyphs" stroke="#171a21" stroke-width="3" stroke-linejoin="round" paint-order="stroke">12000.0</text><text x="1476.00" y="318.9" font-family="Liberation Sans, sans-serif" font-size="15" fill="#111111" textLength="55.00" lengthAdjust="spacingAndGlyphs">16126.0</text><text x="1485.00" y="513.0" font-family="Liberation Sans, sans-serif" font-size="14" fill="#ececec" textLength="46.00" lengthAdjust="spacingAndGlyphs" stroke="#171a21" stroke-width="3" stroke-linejoin="round" paint-order="stroke">1000.0</text><text x="1492.00" y="532.0" font-family="Liberation Sans, sans-serif" font-size="14" fill="#ececec" textLength="39.00" lengthAdjust="spacingAndGlyphs" stroke="#171a21" stroke-width="3" stroke-linejoin="round" paint-order="stroke">500.0</text><text x="1509.00" y="551.0" font-family="Liberation Sans, sans-serif" font-size="14" fill="#ececec" textLength="22.00" lengthAdjust="spacingAndGlyphs" stroke="#171a21" stroke-width="3" stroke-linejoin="round" paint-order="stroke">0.0</text><text x="1487.00" y="569.0" font-family="Liberation Sans, sans-serif" font-size="14" fill="#ececec" textLength="44.00" lengthAdjust="spacingAndGlyphs" stroke="#171a21" stroke-width="3" stroke-linejoin="round" paint-order="stroke">-500.0</text><text x="1478.00" y="588.0" font-family="Liberation Sans, sans-serif" font-size="14" fill="#ececec" textLength="53.00" lengthAdjust="spacingAndGlyphs" stroke="#171a21" stroke-width="3" stroke-linejoin="round" paint-order="stroke">-1000.0</text><text x="1513.00" y="643.0" font-family="Liberation Sans, sans-serif" font-size="14" fill="#ececec" textLength="18.00" lengthAdjust="spacingAndGlyphs" stroke="#171a21" stroke-width="3" stroke-linejoin="round" paint-order="stroke">70</text><text x="1512.00" y="689.0" font-family="Liberation Sans, sans-serif" font-size="14" fill="#ececec" textLength="19.00" lengthAdjust="spacingAndGlyphs" stroke="#171a21" stroke-width="3" stroke-linejoin="round" paint-order="stroke">30</text><text x="86.00" y="748.2" font-family="Liberation Sans, sans-serif" font-size="15" fill="#ececec" textLength="24.00" lengthAdjust="spacingAndGlyphs" stroke="#171a21" stroke-width="3" stroke-linejoin="round" paint-order="stroke">Mar</text><text x="212.00" y="748.2" font-family="Liberation Sans, sans-serif" font-size="15" fill="#ececec" textLength="22.00" lengthAdjust="spacingAndGlyphs" stroke="#171a21" stroke-width="3" stroke-linejoin="round" paint-order="stroke">Apr</text><text x="343.00" y="748.2" font-family="Liberation Sans, sans-serif" font-size="15" fill="#ececec" textLength="26.00" lengthAdjust="spacingAndGlyphs" stroke="#171a21" stroke-width="3" stroke-linejoin="round" paint-order="stroke">May</text><text x="481.00" y="748.2" font-family="Liberation Sans, sans-serif" font-size="15" fill="#ececec" textLength="21.00" lengthAdjust="spacingAndGlyphs" stroke="#171a21" stroke-width="3" stroke-linejoin="round" paint-order="stroke">Jun</text><text x="601.00" y="748.2" font-family="Liberation Sans, sans-serif" font-size="15" fill="#ececec" textLength="16.00" lengthAdjust="spacingAndGlyphs" stroke="#171a21" stroke-width="3" stroke-linejoin="round" paint-order="stroke">Jul</text><text x="730.00" y="748.2" font-family="Liberation Sans, sans-serif" font-size="15" fill="#ececec" textLength="26.00" lengthAdjust="spacingAndGlyphs" stroke="#171a21" stroke-width="3" stroke-linejoin="round" paint-order="stroke">Aug</text><text x="862.00" y="748.2" font-family="Liberation Sans, sans-serif" font-size="15" fill="#ececec" textLength="31.00" lengthAdjust="spacingAndGlyphs" stroke="#171a21" stroke-width="3" stroke-linejoin="round" paint-order="stroke">Sept</text><text x="987.00" y="748.2" font-family="Liberation Sans, sans-serif" font-size="15" fill="#ececec" textLength="24.00" lengthAdjust="spacingAndGlyphs" stroke="#171a21" stroke-width="3" stroke-linejoin="round" paint-order="stroke">Oct</text><text x="1128.00" y="748.2" font-family="Liberation Sans, sans-serif" font-size="15" fill="#ececec" textLength="25.00" lengthAdjust="spacingAndGlyphs" stroke="#171a21" stroke-width="3" stroke-linejoin="round" paint-order="stroke">Nov</text><text x="1311.00" y="748.2" font-family="Liberation Sans, sans-serif" font-size="15" fill="#ececec" textLength="26.00" lengthAdjust="spacingAndGlyphs" stroke="#171a21" stroke-width="3" stroke-linejoin="round" paint-order="stroke">Dec</text><text x="4.00" y="748.2" font-family="Liberation Sans, sans-serif" font-size="15" fill="#ececec" textLength="34.00" lengthAdjust="spacingAndGlyphs" stroke="#171a21" stroke-width="3" stroke-linejoin="round" paint-order="stroke">2024</text><text x="1497.00" y="748.2" font-family="Liberation Sans, sans-serif" font-size="15" fill="#ececec" textLength="35.00" lengthAdjust="spacingAndGlyphs" stroke="#171a21" stroke-width="3" stroke-linejoin="round" paint-order="stroke">2025</text><text x="3.00" y="727" font-family="Liberation Sans, sans-serif" font-size="11.5" fill="#6e727a" textLength="80.00" lengthAdjust="spacingAndGlyphs">Data is indicative</text><text x="26.00" y="29.1" font-family="Liberation Sans, sans-serif" font-size="15" fill="#ececec" textLength="30.00" lengthAdjust="spacingAndGlyphs">Daily</text><text x="78.00" y="29.1" font-family="Liberation Sans, sans-serif" font-size="15" fill="#ececec" textLength="21.00" lengthAdjust="spacingAndGlyphs">Bid</text><text x="3.00" y="485.2" font-family="Liberation Sans, sans-serif" font-size="15" fill="#ef3b3b" textLength="28.00" lengthAdjust="spacingAndGlyphs">-560</text><text x="51.00" y="485.2" font-family="Liberation Sans, sans-serif" font-size="15" fill="#ef3b3b" textLength="41.00" lengthAdjust="spacingAndGlyphs">-3.36%</text><text x="112.00" y="485.2" font-family="Liberation Sans, sans-serif" font-size="15" fill="#ececec" textLength="52.00" lengthAdjust="spacingAndGlyphs">H 22722</text><text x="175.00" y="485.2" font-family="Liberation Sans, sans-serif" font-size="15" fill="#ececec" textLength="50.00" lengthAdjust="spacingAndGlyphs">L 12046</text><text x="237.00" y="485.2" font-family="Liberation Sans, sans-serif" font-size="15" fill="#a3a3aa" textLength="193.00" lengthAdjust="spacingAndGlyphs">Wed 7 Feb 2024 - Sun 5 Jan 2025</text><text x="9.00" y="516" font-family="Liberation Sans, sans-serif" font-size="14" fill="#b9b9be" textLength="41.00" lengthAdjust="spacingAndGlyphs">MACD</text><text x="58.00" y="516" font-family="Liberation Sans, sans-serif" font-size="14" fill="#ececec" textLength="17.00" lengthAdjust="spacingAndGlyphs">12</text><text x="84.00" y="516" font-family="Liberation Sans, sans-serif" font-size="14" fill="#ececec" textLength="17.00" lengthAdjust="spacingAndGlyphs">26</text><text x="109.00" y="516" font-family="Liberation Sans, sans-serif" font-size="14" fill="#ececec" textLength="10.00" lengthAdjust="spacingAndGlyphs">9</text><text x="10.00" y="614" font-family="Liberation Sans, sans-serif" font-size="14" fill="#b9b9be" textLength="21.00" lengthAdjust="spacingAndGlyphs">RSI</text><text x="39.00" y="614" font-family="Liberation Sans, sans-serif" font-size="14" fill="#ececec" textLength="17.00" lengthAdjust="spacingAndGlyphs">14</text><text x="64.00" y="614" font-family="Liberation Sans, sans-serif" font-size="14" fill="#ececec" textLength="18.00" lengthAdjust="spacingAndGlyphs">70</text><text x="90.00" y="614" font-family="Liberation Sans, sans-serif" font-size="14" fill="#ececec" textLength="17.00" lengthAdjust="spacingAndGlyphs">30</text><path d="M127 507L135 515M135 507L127 515" stroke="#a3a2aa" stroke-width="2.5"/><path d="M115.5 605L124 613.5M124 605L115.5 613.5" stroke="#a3a2aa" stroke-width="2.5"/></svg>
</body></html>
